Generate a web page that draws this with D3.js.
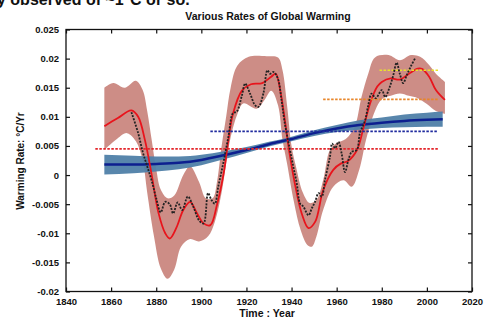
<!DOCTYPE html>
<html>
<head>
<meta charset="utf-8">
<script src="https://cdn.jsdelivr.net/npm/d3@7/dist/d3.min.js"></script>
<style>
  html, body { margin: 0; padding: 0; background: #fff; }
  svg { display: block; font-family: "Liberation Sans", Arial, sans-serif; }
</style>
</head>
<body>
<svg id="chart" width="485" height="320"></svg>
<script>
// ---- Data ----
const xTicks = [1840, 1860, 1880, 1900, 1920, 1940, 1960, 1980, 2000, 2020];
const yTicks = [0.025, 0.02, 0.015, 0.01, 0.005, 0, -0.005, -0.01, -0.015, -0.02];
const yTickLabels = ["0.025", "0.02", "0.015", "0.01", "0.005", "0", "-0.005", "-0.01", "-0.015", "-0.02"];

// smoothed rate (red)
const redYears = [1857,1863,1869,1872,1875,1878,1881,1884,1886,1889,1892,1895,1898,1901,1904,1907,1910,1912,1914,1918,1922,1927,1931,1933,1935,1937,1939,1942,1944.5,1947.5,1950.5,1954,1958.5,1962,1965,1969,1972,1975,1978,1980,1984,1988,1992,1996,1998,2001,2004,2008];
const redValues = [0.0084,0.0098,0.0111,0.0100,0.0060,0.0000,-0.0065,-0.0100,-0.0109,-0.0090,-0.0060,-0.0046,-0.0065,-0.0083,-0.0086,-0.0050,0.0005,0.0060,0.0105,0.0145,0.0156,0.0158,0.0169,0.0174,0.0145,0.0095,0.0040,-0.0025,-0.0066,-0.0091,-0.0080,-0.0026,0.0009,0.0020,0.0024,0.0043,0.0083,0.0125,0.0152,0.0160,0.0166,0.0164,0.0174,0.0183,0.0182,0.0169,0.0146,0.0129];

// uncertainty band (pink)
const bandUpperYears = [1857,1861,1866,1871,1874,1876,1878,1880,1882,1885,1888,1892,1895,1899,1902,1905,1907,1909,1911,1913,1916,1921,1929,1934,1936,1938,1940,1942,1945,1948,1951,1954,1957,1960,1964,1968,1971,1974,1977,1983,1988,1993,1997,2001,2004,2008];
const bandUpper = [0.0150,0.0158,0.0150,0.0162,0.0146,0.0110,0.0060,0.0010,-0.0025,-0.0040,-0.0035,0.0000,0.0015,-0.0012,-0.0040,-0.0040,-0.0010,0.0050,0.0100,0.0150,0.0188,0.0203,0.0204,0.0202,0.0180,0.0120,0.0050,0.0014,-0.0030,-0.0048,-0.0043,-0.0009,0.0043,0.0055,0.0062,0.0083,0.0134,0.0174,0.0202,0.0206,0.0197,0.0206,0.0203,0.0189,0.0174,0.0160];
const bandLowerYears = [1857,1862,1867,1871,1874,1876,1879,1882,1885,1888,1891,1895,1899,1903,1906,1909,1911,1913,1916,1918.6,1924.5,1928,1931,1934,1936,1938,1941,1944,1947,1949,1951,1954,1958.5,1963,1966.7,1970,1973,1976,1980,1984,1988,1992,1996,2000,2004,2008];
const bandLower = [0.0043,0.0060,0.0072,0.0058,0.0025,-0.0030,-0.0105,-0.0160,-0.0178,-0.0162,-0.0123,-0.0110,-0.0114,-0.0105,-0.0080,-0.0030,0.0020,0.0065,0.0105,0.0123,0.0114,0.0129,0.0145,0.0120,0.0060,0.0020,-0.0045,-0.0094,-0.0120,-0.0123,-0.0106,-0.0060,-0.0020,-0.0009,-0.0020,0.0009,0.0060,0.0100,0.0130,0.0136,0.0140,0.0136,0.0132,0.0122,0.0110,0.0105];

// annual-ish rate (black dotted)
const blackYears = [1869,1872,1874,1876,1878,1880,1882,1884,1886,1887.5,1889.5,1891.5,1894,1896.5,1899,1901,1903,1904.5,1906,1907.5,1909.7,1912,1914,1915.7,1918,1919.4,1921.6,1923.8,1925.3,1927.5,1929.3,1930.5,1932,1934,1935.5,1937,1939.3,1940.8,1942.3,1943.8,1945.2,1947.5,1949,1950.4,1952,1953.4,1954.8,1957,1958,1959.3,1960.8,1962.2,1963.7,1965.2,1966.7,1968.9,1970.3,1972.6,1974,1975.5,1977.3,1980,1981.5,1983.3,1985,1986.6,1988,1989.5,1991,1992.8,1994.7];
const blackValues = [0.0108,0.0072,0.0040,0.0015,-0.0010,-0.0040,-0.0064,-0.0046,-0.0050,-0.0066,-0.0047,-0.0060,-0.0037,-0.0055,-0.0078,-0.0083,-0.0031,-0.0043,-0.0049,-0.0020,0.0020,0.0066,0.0106,0.0109,0.0137,0.0157,0.0140,0.0120,0.0117,0.0140,0.0180,0.0174,0.0177,0.0165,0.0130,0.0089,0.0043,0.0014,-0.0014,-0.0049,-0.0054,-0.0069,-0.0057,-0.0046,-0.0031,-0.0037,-0.0009,0.0031,0.0054,0.0046,0.0057,0.0037,0.0005,0.0026,0.0040,0.0043,0.0072,0.0094,0.0120,0.0140,0.0132,0.0146,0.0134,0.0149,0.0170,0.0193,0.0174,0.0158,0.0171,0.0186,0.0200];

// long-term trend (blue) with its band
const trendYears = [1857,1870,1880,1890,1900,1910,1920,1930,1940,1950,1960,1970,1980,1990,2000,2007];
const trendValues = [0.0018,0.0018,0.0019,0.0021,0.0026,0.0034,0.0043,0.0053,0.0062,0.0072,0.0080,0.0086,0.0090,0.0093,0.0095,0.0096];
const trendHalfWidth = [0.0017,0.0015,0.0013,0.0011,0.0009,0.0007,0.0005,0.0004,0.0004,0.0005,0.0006,0.0008,0.0009,0.0011,0.0012,0.0013];

// average rates over periods (dashed)
const avgLabels = ["1853-2005", "1904-2005", "1954-2005", "1979-2005"];
const avgStart = [1853, 1904, 1954, 1979];
const avgEnd = [2005, 2005, 2005, 2005];
const avgValue = [0.0045, 0.0075, 0.0130, 0.0180];
const avgColors = ["#e3262b", "#1f2a9e", "#e8862a", "#e9e22b"];

// ---- Layout ----
const svg = d3.select("#chart");
const pLeft = 66, pRight = 472, pTop = 29.5, pBottom = 291.5;
const x = d3.scaleLinear().domain([1840, 2020]).range([pLeft, pRight]);
const y = d3.scaleLinear().domain([-0.02, 0.025]).range([pBottom, pTop]);

// partially cut text from page above
svg.append("text").attr("x", -3).attr("y", 4.5)
  .attr("font-size", 16).attr("font-weight", "bold").attr("fill", "#111")
  .text("y observed of ~1°C or so.");

const plot = svg.append("g");

// pink band
const upPts = bandUpperYears.map((yr, i) => [x(yr), y(bandUpper[i])]);
const loPts = bandLowerYears.map((yr, i) => [x(yr), y(bandLower[i])]).reverse();
const lineGen = d3.line().curve(d3.curveCatmullRom.alpha(0.5));
const upPath = lineGen(upPts);
const loPath = lineGen(loPts);
plot.append("path")
  .attr("d", upPath + "L" + loPath.slice(1) + "Z")
  .attr("fill", "#c9837c").attr("opacity", 0.92).attr("stroke", "none");

// blue band
const trendData = trendYears.map((yr, i) => ({yr, v: trendValues[i], h: trendHalfWidth[i]}));
plot.append("path")
  .datum(trendData)
  .attr("d", d3.area().curve(d3.curveMonotoneX)
    .x(d => x(d.yr)).y0(d => y(d.v - d.h)).y1(d => y(d.v + d.h)))
  .attr("fill", "#4f7fa8").attr("opacity", 0.95);
plot.append("path")
  .datum(trendData)
  .attr("d", d3.line().curve(d3.curveMonotoneX).x(d => x(d.yr)).y(d => y(d.v)))
  .attr("fill", "none").attr("stroke", "#0d1f8f").attr("stroke-width", 2.5);

// red smoothed line
plot.append("path")
  .datum(redYears.map((yr, i) => [yr, redValues[i]]))
  .attr("d", d3.line().curve(d3.curveCatmullRom.alpha(0.5)).x(d => x(d[0])).y(d => y(d[1])))
  .attr("fill", "none").attr("stroke", "#e8141c").attr("stroke-width", 1.8);

// dashed average lines
avgValue.forEach((v, i) => {
  plot.append("line")
    .attr("x1", x(avgStart[i])).attr("x2", x(avgEnd[i]))
    .attr("y1", y(v)).attr("y2", y(v))
    .attr("stroke", avgColors[i]).attr("stroke-width", 1.6)
    .attr("stroke-dasharray", "2.5,1.5");
});

// black dotted line
plot.append("path")
  .datum(blackYears.map((yr, i) => [yr, blackValues[i]]))
  .attr("d", d3.line().curve(d3.curveCatmullRom.alpha(0.5)).x(d => x(d[0])).y(d => y(d[1])))
  .attr("fill", "none").attr("stroke", "#222").attr("stroke-width", 1.8)
  .attr("stroke-dasharray", "2,1.3");

// ---- Axes (MATLAB-style box, inward ticks) ----
const axisG = svg.append("g").attr("fill", "none").attr("stroke", "#111");
axisG.append("rect").attr("x", pLeft).attr("y", pTop)
  .attr("width", pRight - pLeft).attr("height", pBottom - pTop)
  .attr("stroke-width", 1.3);

const bottomAxis = d3.axisBottom(x).tickValues(xTicks).tickSizeInner(-4).tickSizeOuter(0).tickPadding(7).tickFormat(d3.format("d"));
const topAxis = d3.axisTop(x).tickValues(xTicks).tickSizeInner(-4).tickSizeOuter(0).tickFormat("");
const leftAxis = d3.axisLeft(y).tickValues(yTicks).tickSizeInner(-4).tickSizeOuter(0).tickPadding(7)
  .tickFormat((d, i) => yTickLabels[i]);
const rightAxis = d3.axisRight(y).tickValues(yTicks).tickSizeInner(-4).tickSizeOuter(0).tickFormat("");

function styleAxis(g) {
  g.select(".domain").remove();
  g.selectAll(".tick line").attr("stroke", "#111").attr("stroke-width", 1.2);
  g.selectAll(".tick text").attr("fill", "#111").attr("font-size", 9.5).attr("font-weight", "bold")
    .attr("font-family", "'Liberation Sans', Arial, sans-serif");
}
svg.append("g").attr("transform", `translate(0,${pBottom})`).call(bottomAxis).call(styleAxis);
svg.append("g").attr("transform", `translate(0,${pTop})`).call(topAxis).call(styleAxis);
svg.append("g").attr("transform", `translate(${pLeft},0)`).call(leftAxis).call(styleAxis);
svg.append("g").attr("transform", `translate(${pRight},0)`).call(rightAxis).call(styleAxis);

// ---- Titles ----
svg.append("text").attr("x", 268).attr("y", 20).attr("text-anchor", "middle")
  .attr("font-size", 10.5).attr("font-weight", "bold").attr("fill", "#111")
  .text("Various Rates of Global Warming");
svg.append("text").attr("x", 267).attr("y", 317).attr("text-anchor", "middle")
  .attr("font-size", 10.5).attr("font-weight", "bold").attr("fill", "#111")
  .text("Time : Year");
svg.append("text").attr("transform", "translate(24,161) rotate(-90)").attr("text-anchor", "middle")
  .attr("font-size", 10).attr("font-weight", "bold").attr("fill", "#111")
  .text("Warming Rate: °C/Yr");
</script>
</body>
</html>
